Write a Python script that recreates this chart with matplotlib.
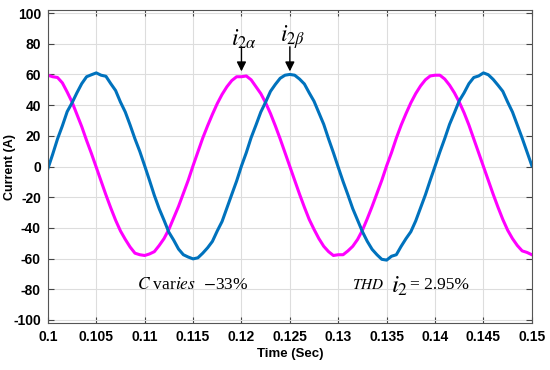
import numpy as np
import matplotlib

matplotlib.use("Agg")
import matplotlib.pyplot as plt

i_2alpha = [
    59.5, 58.5, 58.0, 54.5, 48.5, 42.0, 34.0, 26.0, 17.0, 8.5,
    -0.5, -9.5, -18.5, -27.0, -35.0, -42.0, -47.5, -52.5, -56.5, -57.5,
    -58.0, -57.0, -55.5, -51.5, -47.0, -41.0, -33.5, -26.0, -17.5, -9.0,
    0.5, 9.5, 18.5, 26.5, 34.0, 41.0, 47.0, 52.0, 56.0, 58.5,
    58.5, 59.0, 56.5, 52.0, 47.5, 41.5, 34.5, 26.5, 18.0, 9.0,
    0.0, -9.0, -18.0, -26.5, -34.5, -41.0, -47.0, -52.0, -55.5, -58.0,
    -57.5, -57.5, -55.0, -52.0, -47.5, -41.5, -34.0, -26.0, -17.5, -9.0,
    0.5, 9.0, 18.5, 27.0, 34.5, 41.5, 47.5, 52.5, 56.5, 59.0,
    59.5, 59.5, 57.0, 53.0, 48.0, 42.0, 35.0, 27.0, 18.0, 9.0,
    0.0, -9.0, -18.0, -26.5, -34.5, -41.5, -47.0, -51.5, -55.0, -56.0,
    -57.5,
]
i_2beta = [
    -1.5, 8.0, 18.0, 26.5, 35.8, 41.5, 48.0, 54.0, 58.5, 59.8,
    61.0, 59.5, 58.8, 54.0, 49.5, 42.0, 35.5, 27.0, 18.0, 9.8,
    0.5, -9.0, -18.8, -27.5, -35.0, -42.8, -48.0, -53.8, -57.5, -59.0,
    -60.2, -59.5, -56.5, -53.0, -48.8, -42.0, -35.8, -27.0, -18.2, -9.5,
    0.3, 9.0, 18.8, 27.0, 35.5, 42.0, 49.0, 53.5, 57.5, 59.5,
    60.0, 59.5, 57.0, 53.8, 48.0, 42.5, 35.0, 27.5, 18.0, 9.0,
    -0.5, -9.8, -18.5, -27.5, -35.0, -42.5, -48.8, -54.0, -57.5, -60.5,
    -61.0, -58.5, -57.5, -52.0, -47.0, -42.5, -35.5, -27.0, -18.5, -9.0,
    0.2, 9.5, 18.2, 27.5, 35.0, 42.8, 48.0, 54.0, 58.0, 59.0,
    61.0, 59.8, 56.8, 53.0, 49.0, 42.0, 35.5, 27.0, 18.5, 9.5,
    0.5,
]
t = np.linspace(0.1, 0.15, len(i_2alpha))

xticks = [0.1, 0.105, 0.11, 0.115, 0.12, 0.125, 0.13, 0.135, 0.14, 0.145, 0.15]
xticklabels = ["0.1", "0.105", "0.11", "0.115", "0.12", "0.125",
               "0.13", "0.135", "0.14", "0.145", "0.15"]
yticks = list(range(-100, 101, 20))

plt.rcParams["font.family"] = ["Liberation Sans", "DejaVu Sans"]
plt.rcParams["axes.unicode_minus"] = False

fig = plt.figure(figsize=(5.5, 3.7), dpi=100)
ax = fig.add_axes((0.087, 0.127, 0.88, 0.846))

ax.plot(t, i_2alpha, color="#ff00ff", linewidth=2.2)
ax.plot(t, i_2beta, color="#0072bd", linewidth=2.2)

ax.set_xlim(0.1, 0.15)
ax.set_ylim(-102, 102)
ax.set_xticks(xticks)
ax.set_xticklabels(xticklabels)
ax.set_yticks(yticks)
ax.tick_params(direction="in", top=True, right=True, length=4,
               labelsize=10, color="#444444", pad=5)
for lab in ax.get_xticklabels() + ax.get_yticklabels():
    lab.set_fontweight("bold")
ax.grid(True, color="#dddddd", linewidth=0.8)
ax.set_axisbelow(True)
for sp in ax.spines.values():
    sp.set_color("#555555")
    sp.set_linewidth(0.8)

ax.set_xlabel("Time (Sec)", fontsize=9.5, fontweight="bold", labelpad=3)
ax.set_ylabel("Current (A)", fontsize=9, fontweight="bold")
ax.yaxis.set_label_coords(-0.065, 0.5)

serif = "Liberation Serif"
for xc in (0.12, 0.125):
    ax.annotate("", xy=(xc, 62), xytext=(xc, 78),
                arrowprops=dict(arrowstyle="-|>", color="black", lw=1.0,
                                mutation_scale=14, shrinkA=0, shrinkB=0))
ax.text(0.1203, 75, r"$i_{2\alpha}$", fontsize=17, ha="center",
        va="bottom", family=serif, math_fontfamily="stix")
ax.text(0.1253, 75, r"$i_{2\beta}$", fontsize=17, ha="center",
        va="bottom", family=serif, math_fontfamily="stix")

ax.text(0.1092, -77, r"$C$ var$\it{ies}$  $-$33%", fontsize=12.5,
        family=serif, math_fontfamily="stix", va="center")
ax.text(0.1314, -77, r"$THD$", fontsize=11, family=serif,
        math_fontfamily="stix", va="center")
ax.text(0.1354, -78, r"$i_2$", fontsize=18, family=serif,
        math_fontfamily="stix", va="center")
ax.text(0.1374, -77, "= 2.95%", fontsize=12.5, family=serif, va="center")

fig.savefig("out.png")
